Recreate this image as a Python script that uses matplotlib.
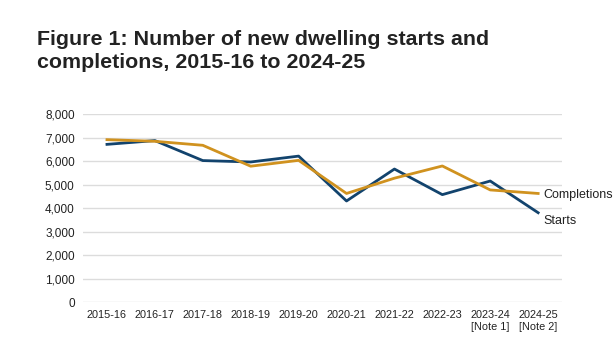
import matplotlib.pyplot as plt

plt.rcParams['font.family'] = ['Liberation Sans', 'DejaVu Sans']

years = ['2015-16', '2016-17', '2017-18', '2018-19', '2019-20', '2020-21',
         '2021-22', '2022-23', '2023-24\n[Note 1]', '2024-25\n[Note 2]']
starts = [6710, 6870, 6020, 5960, 6210, 4300, 5660, 4570, 5150, 3800]
completions = [6910, 6840, 6670, 5780, 6030, 4620, 5270, 5790, 4770, 4620]

navy = '#12436D'
gold = '#D0921F'

fig = plt.figure(figsize=(6.15, 3.52), dpi=100)
ax = fig.add_axes([0.135, 0.142, 0.779, 0.534])

x = range(len(years))
ax.plot(x, starts, color=navy, lw=2)
ax.plot(x, completions, color=gold, lw=2)

ax.set_xlim(-0.5, 9.5)
ax.set_ylim(0, 8000)
ax.set_yticks(range(0, 8001, 1000))
ax.set_yticklabels([f'{v:,}' for v in range(0, 8001, 1000)], fontsize=8.5, color='#222222')
ax.set_xticks(list(x))
ax.set_xticklabels(years, fontsize=7.8, color='#222222')
ax.tick_params(length=0, pad=6)
ax.yaxis.grid(True, color='#dcdcdc', lw=1)
ax.set_axisbelow(True)
for s in ax.spines.values():
    s.set_visible(False)

ax.annotate('Completions', (9, completions[-1]), xytext=(4, -1), textcoords='offset points',
            va='center', ha='left', fontsize=9, color='#222222', annotation_clip=False)
ax.annotate('Starts', (9, starts[-1]), xytext=(4, -6), textcoords='offset points',
            va='center', ha='left', fontsize=9, color='#222222', annotation_clip=False)

fig.text(0.06, 0.915, 'Figure 1: Number of new dwelling starts and\ncompletions, 2015-16 to 2024-25',
         fontsize=15.4, fontweight='bold', color='#222222', va='top', ha='left', linespacing=1.3)

fig.savefig('out.png', dpi=100)
